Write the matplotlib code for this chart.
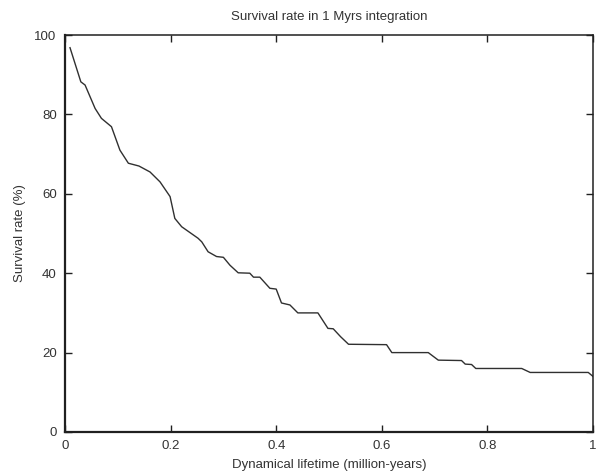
import matplotlib
matplotlib.use("Agg")
import matplotlib.pyplot as plt

lifetime = [0.0095, 0.030, 0.038, 0.057, 0.069, 0.088, 0.104, 0.120, 0.140, 0.161,
            0.180, 0.199, 0.208, 0.221, 0.252, 0.259, 0.271, 0.287, 0.300, 0.3125,
            0.328, 0.350, 0.357, 0.369, 0.388, 0.400, 0.410, 0.426, 0.441, 0.479,
            0.498, 0.508, 0.522, 0.537, 0.609, 0.619, 0.688, 0.707, 0.751, 0.758,
            0.770, 0.778, 0.865, 0.881, 0.991, 1.000]
survival = [96.8, 88.2, 87.4, 81.5, 79.0, 76.9, 71.0, 67.7, 67.0, 65.5,
            63.0, 59.3, 53.8, 51.7, 48.8, 47.9, 45.4, 44.2, 44.0, 42.0,
            40.1, 40.0, 39.0, 39.0, 36.2, 36.0, 32.5, 32.0, 30.0, 30.0,
            26.1, 26.0, 24.0, 22.1, 22.0, 20.0, 20.0, 18.1, 18.0, 17.1,
            17.0, 16.0, 16.0, 15.0, 15.0, 14.0]

xticks = [0, 0.2, 0.4, 0.6, 0.8, 1]
xticklabels = ["0", "0.2", "0.4", "0.6", "0.8", "1"]
yticks = [0, 20, 40, 60, 80, 100]

plt.rcParams['font.family'] = ['Liberation Sans', 'DejaVu Sans']

txt = '#333333'
fig = plt.figure(figsize=(5.96, 4.72), dpi=100)
ax = fig.add_axes([65/596, 40/472, 528/596, 397/472])
ax.plot(lifetime, survival, color='#303030', linewidth=1.0)
ax.set_xlim(0, 1)
ax.set_ylim(0, 100)
ax.set_xticks(xticks)
ax.set_xticklabels(xticklabels)
ax.set_yticks(yticks)
ax.tick_params(direction='in', top=True, right=True, length=5, width=1.0,
               labelsize=9.5, color='#202020', labelcolor=txt)
ax.tick_params(axis='x', pad=5.5)
ax.tick_params(axis='y', pad=6)
for s in ['left', 'bottom']:
    ax.spines[s].set_linewidth(1.6)
for s in ['top', 'right']:
    ax.spines[s].set_linewidth(1.1)
for s in ax.spines.values():
    s.set_color('#202020')
ax.set_xlabel("Dynamical lifetime (million-years)", fontsize=9.5, labelpad=5, color=txt)
ax.set_ylabel("Survival rate (%)", fontsize=9.5, labelpad=6, color=txt)
ax.set_title("Survival rate in 1 Myrs integration", fontsize=9.5, pad=11, color=txt)

fig.savefig("out.png", dpi=100)
